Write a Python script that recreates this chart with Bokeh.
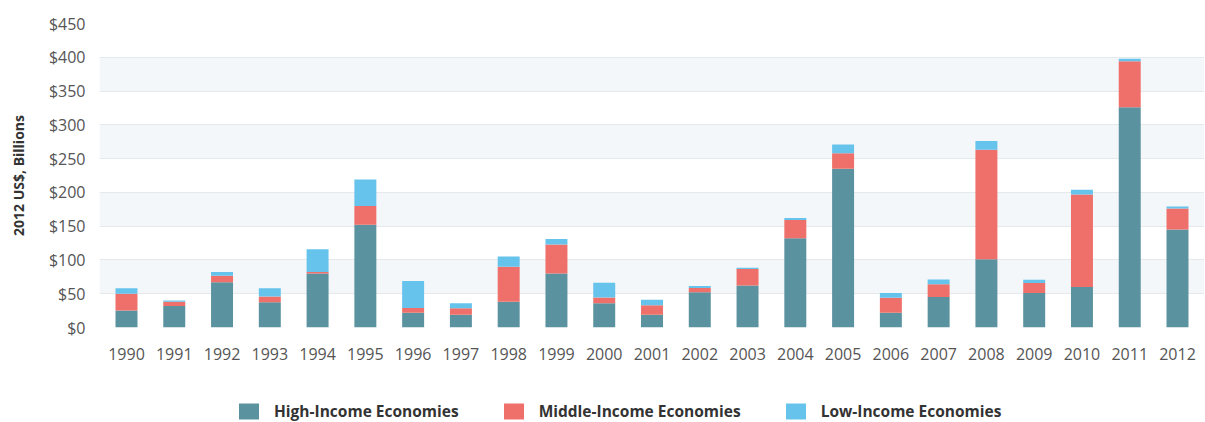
from bokeh.plotting import figure
from bokeh.layouts import column
from bokeh.models import Range1d, FixedTicker, NumeralTickFormatter, Legend, LegendItem, ColumnDataSource
from bokeh.embed import file_html
from bokeh.resources import INLINE

years = list(range(1990, 2013))
high = [25, 32, 67, 37.5, 80, 152, 22, 19, 38, 80, 36, 19, 52, 62, 132, 235, 22, 45, 101, 51, 60, 326, 145]
middle = [25, 6, 9.5, 8.5, 2, 28, 7, 9.5, 52, 43, 8.5, 14, 6.5, 24.5, 27, 23, 22, 19, 162, 15, 137, 68, 31]
low = [8, 2, 5.5, 12, 34, 39, 40, 7.5, 15, 8, 21.7, 8, 3, 2, 3, 13, 7, 7, 13, 4.5, 7, 4, 3]
series = ["High-Income Economies", "Middle-Income Economies", "Low-Income Economies"]
colors = ["#5b929f", "#ef706a", "#66c3ec"]
y_ticks = [0, 50, 100, 150, 200, 250, 300, 350, 400, 450]

FONT = "Open Sans"

src = ColumnDataSource(dict(year=years, high=high, middle=middle, low=low))
stack_cols = ["high", "middle", "low"]

p = figure(width=1204, height=370, output_backend="svg", toolbar_location=None,
           x_range=Range1d(1989.435, 2012.565), y_range=Range1d(0, 450),
           min_border_left=99, min_border_right=0, min_border_top=23, min_border_bottom=43)
p.outline_line_color = None
p.background_fill_color = "white"
p.border_fill_color = "white"

rs = p.vbar_stack(stack_cols, x="year", width=0.46, source=src,
                  color=colors, line_color=None)

p.xgrid.visible = False
p.ygrid.ticker = FixedTicker(ticks=y_ticks)
p.ygrid.grid_line_color = "#e5e9ec"
p.ygrid.grid_line_width = 1
p.ygrid.band_fill_color = "#f4f7f9"
p.ygrid.band_fill_alpha = 1.0

p.yaxis.ticker = FixedTicker(ticks=y_ticks)
p.yaxis.formatter = NumeralTickFormatter(format="$0")
p.xaxis.ticker = FixedTicker(ticks=years)
for ax in (p.xaxis[0], p.yaxis[0]):
    ax.axis_line_color = None
    ax.major_tick_line_color = None
    ax.minor_tick_line_color = None
    ax.major_label_text_font = FONT
    ax.major_label_text_font_size = "16px"
    ax.major_label_text_color = "#555555"
p.xaxis.major_label_standoff = 14
p.yaxis.major_label_standoff = 8
p.yaxis.axis_label = "2012 US$, Billions"
p.yaxis.axis_label_text_font = FONT
p.yaxis.axis_label_text_font_size = "14px"
p.yaxis.axis_label_text_font_style = "bold"
p.yaxis.axis_label_text_color = "#333333"
p.yaxis.axis_label_standoff = 18

# legend strip below the chart
p2 = figure(width=1204, height=52, output_backend="svg", toolbar_location=None,
            x_range=Range1d(0, 1), y_range=Range1d(0, 1),
            x_axis_type=None, y_axis_type=None,
            min_border_left=0, min_border_right=0, min_border_top=0, min_border_bottom=0)
p2.outline_line_color = None
p2.xgrid.visible = False
p2.ygrid.visible = False
rs2 = p2.vbar_stack(stack_cols, x="year", width=0.46, source=src,
                    color=colors, line_color=None, visible=False)

legend = Legend(items=[LegendItem(label=s, renderers=[r]) for s, r in zip(series, rs2)],
                orientation="horizontal", location=(137, 0),
                glyph_width=25, glyph_height=20, label_standoff=13, spacing=42,
                label_text_font=FONT, label_text_font_size="15.5px", label_text_font_style="bold",
                label_text_color="#333333", border_line_color=None, background_fill_alpha=0,
                inactive_fill_alpha=0, padding=0, margin=0)
p2.add_layout(legend, "center")

layout = column(p, p2, spacing=0)
open("out.html", "w").write(file_html(layout, INLINE))
